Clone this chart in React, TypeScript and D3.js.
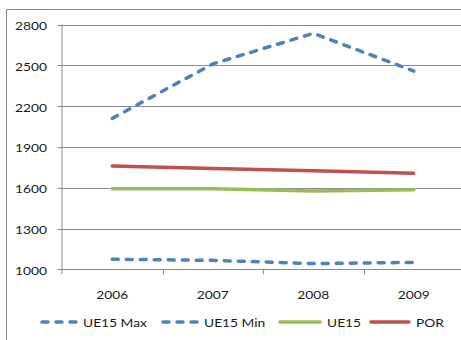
import React from "react";
import * as d3 from "d3";

const years = ["2006", "2007", "2008", "2009"];
const ue15Max = [2110, 2510, 2735, 2458];
const ue15Min = [1074, 1066, 1042, 1051];
const ue15 = [1593, 1593, 1576, 1585];
const por = [1760, 1742, 1725, 1706];
const yTicks = [1000, 1300, 1600, 1900, 2200, 2500, 2800];

const BLUE = "#4F81BD";
const GREEN = "#9BBB59";
const RED = "#C0504D";
const GRID = "#8c8c8c";
const FONT = "Lato, 'Open Sans', sans-serif";
const SX = 1.2;

type Series = { name: string; values: number[]; color: string; dashed: boolean };
const series: Series[] = [
  { name: "UE15 Max", values: ue15Max, color: BLUE, dashed: true },
  { name: "UE15 Min", values: ue15Min, color: BLUE, dashed: true },
  { name: "UE15", values: ue15, color: GREEN, dashed: false },
  { name: "POR", values: por, color: RED, dashed: false },
];

const legendX = [40, 161, 278, 369];
const legendLen = [38, 38, 44, 42];

function Label(props: { x: number; y: number; anchor: string; children: React.ReactNode }) {
  const { x, y, anchor, children } = props;
  return (
    <text
      transform={`translate(${x},${y}) scale(${SX},1)`}
      textAnchor={anchor}
      fontFamily={FONT}
      fontSize={11.5}
      fill="#1a1a1a"
    >
      {children}
    </text>
  );
}

export default function App() {
  const W = 461;
  const H = 340;
  const x = d3.scaleBand<string>().domain(years).range([62, 62 + 4 * 100.5]);
  const y = d3.scaleLinear().domain([1000, 2800]).range([269.3, 24.5]);
  const cx = (i: number) => (x(years[i]) as number) + x.bandwidth() / 2;
  const line = d3
    .line<number>()
    .x((_, i) => cx(i))
    .y((v) => y(v));

  const y0 = y(1000);

  return (
    <svg
      width={W}
      height={H}
      style={{ position: "absolute", left: 0, top: 0, background: "#fff" }}
    >
      {/* chart frame */}
      <rect x={6.5} y={9.5} width={W} height={H} fill="#fff" stroke={GRID} strokeWidth={1} />

      {/* horizontal gridlines */}
      {yTicks.map((t) => (
        <line key={t} x1={57.5} x2={W} y1={Math.round(y(t)) + 0.5} y2={Math.round(y(t)) + 0.5} stroke={GRID} strokeWidth={1} />
      ))}
      {/* value axis */}
      <line x1={62} x2={62} y1={y(2800)} y2={y0 + 5} stroke={GRID} strokeWidth={1} />
      {/* category ticks */}
      {years.map((yr, i) => {
        const bx = Math.round((x(yr) as number) + x.bandwidth()) + 0.5;
        return i < years.length ? (
          <line key={yr} x1={bx} x2={bx} y1={y0} y2={y0 + 5} stroke={GRID} strokeWidth={1} />
        ) : null;
      })}

      {/* y tick labels */}
      {yTicks.map((t) => (
        <Label key={t} x={47} y={y(t) + 5.5} anchor="end">
          {t}
        </Label>
      ))}
      {/* x tick labels */}
      {years.map((yr, i) => (
        <Label key={yr} x={cx(i)} y={299} anchor="middle">
          {yr}
        </Label>
      ))}

      {/* series */}
      {series.map((s) => (
        <path
          key={s.name}
          d={line(s.values) || ""}
          fill="none"
          stroke={s.color}
          strokeWidth={3.5}
          strokeLinecap="round"
          strokeLinejoin="round"
          strokeDasharray={s.dashed ? "6,8" : undefined}
        />
      ))}

      {/* legend */}
      {series.map((s, i) => (
        <g key={s.name}>
          <line
            x1={legendX[i] + 2}
            x2={legendX[i] + legendLen[i] - 2}
            y1={322}
            y2={322}
            stroke={s.color}
            strokeWidth={3.5}
            strokeLinecap="round"
            strokeDasharray={s.dashed ? "6,8" : undefined}
          />
          <Label x={legendX[i] + legendLen[i] + 5} y={327.3} anchor="start">
            {s.name}
          </Label>
        </g>
      ))}
    </svg>
  );
}
